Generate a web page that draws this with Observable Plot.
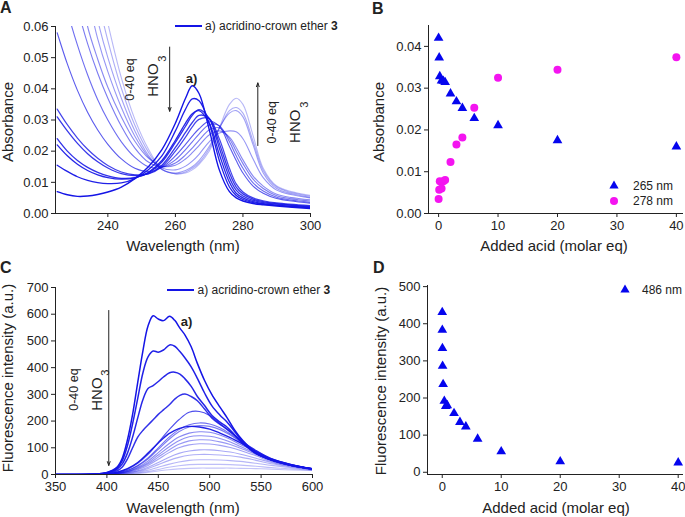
<!DOCTYPE html>
<html><head><meta charset="utf-8">
<script src="https://cdn.jsdelivr.net/npm/d3@7"></script>
<script src="https://cdn.jsdelivr.net/npm/@observablehq/plot@0.6"></script>
<style>
body{margin:0;background:#fff;}
#wrap{position:relative;width:685px;height:517px;font-family:Arial,"Liberation Sans",sans-serif;color:#222;overflow:hidden;background:#fff}
#wrap svg.plot{position:absolute}
.lbl{position:absolute;font-size:15px;line-height:1;white-space:nowrap;transform:translate(-50%,-50%)}
.rot{transform:translate(-50%,-50%) rotate(-90deg)}
.letter{position:absolute;font-weight:bold;font-size:16px;line-height:1}
.leg{position:absolute;font-size:12px;line-height:1;white-space:nowrap}
.legline{position:absolute;height:1.6px;background:#1414e6}
.sym{position:absolute;line-height:0}
.sym svg{display:block}
</style></head>
<body>
<div id="wrap"></div>
<script>
// ---------------- DATA ----------------
// Panel A: UV-vis absorbance spectra (0 -> 40 eq HNO3)
const absWl = [225,228,231,234,237,240,244,248,252,256,260,263,265,267,270,273,276,278,280,283,286,290,300];
const absC1  = [.0070,.0060,.0055,.0056,.0061,.0069,.0085,.0112,.0150,.0205,.0290,.0370,.0410,.0385,.0270,.0140,.0070,.0050,.0040,.0032,.0028,.0024,.0016];
const absC2  = [.0155,.0135,.0118,.0106,.0099,.0096,.0098,.0112,.0140,.0185,.0265,.0335,.0368,.0362,.0290,.0170,.0085,.0058,.0045,.0035,.0030,.0026,.0018];
const absC3  = [.0220,.0185,.0158,.0138,.0124,.0115,.0110,.0114,.0132,.0170,.0235,.0290,.0320,.0330,.0290,.0190,.0100,.0065,.0050,.0038,.0032,.0027,.0019];
const absC4  = [.0240,.0200,.0170,.0148,.0132,.0121,.0113,.0115,.0130,.0165,.0228,.0280,.0315,.0333,.0305,.0210,.0115,.0075,.0056,.0042,.0035,.0030,.0021];
const absC5  = [.0310,.0265,.0225,.0192,.0166,.0146,.0128,.0122,.0128,.0155,.0212,.0260,.0292,.0315,.0305,.0225,.0130,.0085,.0063,.0046,.0038,.0032,.0023];
const absC6  = [.0335,.0285,.0242,.0206,.0177,.0154,.0133,.0124,.0127,.0150,.0200,.0245,.0278,.0302,.0305,.0240,.0145,.0095,.0069,.0050,.0041,.0034,.0025];
const absC7  = [.0580,.0480,.0395,.0325,.0268,.0222,.0175,.0145,.0135,.0148,.0185,.0222,.0248,.0272,.0296,.0280,.0215,.0170,.0130,.0088,.0065,.0048,.0033];
const absC8  = [.0780,.0650,.0540,.0445,.0365,.0300,.0230,.0180,.0150,.0148,.0172,.0205,.0230,.0255,.0285,.0282,.0230,.0185,.0145,.0098,.0072,.0052,.0036];
const absC9  = [.0950,.0800,.0660,.0545,.0450,.0370,.0280,.0210,.0165,.0150,.0162,.0188,.0210,.0235,.0268,.0275,.0240,.0200,.0160,.0110,.0080,.0057,.0040];
const absC10 = [.1100,.0930,.0770,.0600,.0495,.0405,.0310,.0232,.0178,.0152,.0155,.0175,.0195,.0218,.0252,.0265,.0245,.0212,.0172,.0120,.0088,.0062,.0044];
const absC11 = [.1200,.1020,.0850,.0700,.0560,.0455,.0340,.0248,.0182,.0146,.0140,.0152,.0168,.0190,.0230,.0258,.0265,.0262,.0240,.0175,.0115,.0075,.0050];
const absC12 = [.1300,.1120,.0940,.0780,.0620,.0500,.0370,.0265,.0187,.0141,.0130,.0138,.0150,.0170,.0215,.0275,.0322,.0330,.0310,.0220,.0130,.0080,.0052];
const absC13 = [.1400,.1210,.1020,.0850,.0690,.0555,.0402,.0283,.0197,.0141,.0128,.0133,.0145,.0163,.0208,.0272,.0330,.0340,.0322,.0232,.0138,.0085,.0055];
const absC14 = [.1500,.1300,.1100,.0920,.0760,.0610,.0435,.0302,.0207,.0143,.0127,.0130,.0140,.0158,.0200,.0275,.0350,.0370,.0350,.0250,.0145,.0088,.0058];
const absCurves = [absC1,absC2,absC3,absC4,absC5,absC6,absC7,absC8,absC9,absC10,absC11,absC12,absC13,absC14];
const absXTicks = [240,260,280,300];
const absYTicks = [0,0.01,0.02,0.03,0.04,0.05,0.06];

// Panel B: absorbance vs added acid
const eqB = [0,0.1,0.2,0.5,0.8,1.1,2,3,4,6,10,20,40];
const abs265 = [0.0420,0.0373,0.0328,0.0318,0.0317,0.0314,0.0287,0.0268,0.0252,0.0228,0.0211,0.0175,0.0160];
const abs278 = [0.0035,0.0057,0.0077,0.0060,0.0077,0.0080,0.0123,0.0165,0.0182,0.0253,0.0325,0.0344,0.0374];
const acidTicks = [0,10,20,30,40];
const absBTicks = [0,0.01,0.02,0.03,0.04];

// Panel C: fluorescence spectra
const flWlTop = [350,390,400,405,410,415,420,425,430,435,440,445,450,455,461,466,471,476,482,488,495,502,510,517,524,532,545,560,580,600];
const flT1 = [0,2,8,15,28,62,130,225,345,462,556,594,582,576,592,577,548,522,478,416,352,300,252,212,168,128,82,55,34,21];
const flT2 = [0,2,7,13,24,52,108,190,285,380,440,462,458,466,485,480,460,436,403,360,305,258,222,196,162,124,80,55,34,21];
const flT3 = [0,2,6,11,20,40,80,140,212,280,322,333,348,365,381,383,376,358,330,292,258,222,196,177,150,120,79,54,34,21];
const flT4 = [0,2,5,8,14,28,58,100,140,165,185,205,225,242,262,282,296,301,292,276,245,212,188,170,148,117,78,54,34,21];
const flWlLow = [350,400,410,420,430,440,450,460,470,480,490,500,510,520,530,545,560,580,600];
const flL1  = [0,3,8,20,42,75,120,165,205,233,236,221,190,158,128,90,60,37,21];
const flL2  = [0,2,6,16,34,62,100,138,168,186,193,189,175,152,125,90,59,37,21];
const flL3  = [0,3,9,22,45,80,118,152,172,180,178,170,155,138,118,86,58,36,21];
const flL4  = [0,2,6,15,32,58,94,130,160,178,183,180,168,148,122,88,58,36,21];
const flL5  = [0,2,5,12,27,50,82,114,140,155,160,158,148,132,112,84,56,35,20];
const flL6  = [0,2,5,11,24,44,73,102,126,141,145,143,135,122,105,79,54,34,20];
const flL7  = [0,2,4,10,21,39,65,91,113,126,130,129,122,112,98,75,52,33,20];
const flL8  = [0,1,4,9,18,34,57,81,100,111,115,114,109,101,90,70,49,32,19];
const flL9  = [0,1,3,7,14,27,45,64,79,88,92,92,89,84,76,61,45,30,19];
const flL10 = [0,1,3,6,12,22,37,52,64,72,75,75,73,70,65,53,40,28,18];
const flL11 = [0,1,2,4,9,16,27,38,47,53,55,55,54,52,49,42,34,25,17];
const flL12 = [0,1,2,3,6,11,19,27,33,37,38,38,38,37,35,31,26,21,16];
const flL13 = [0,1,1,2,4,8,13,18,21,23,24,24,24,24,23,22,20,17,15];
const flTopCurves = [flT1,flT2,flT3,flT4];
const flLowCurves = [flL1,flL2,flL3,flL4,flL5,flL6,flL7,flL8,flL9,flL10,flL11,flL12,flL13];
const flXTicks = [350,400,450,500,550,600];
const flYTicks = [0,100,200,300,400,500,600,700];

// Panel D: fluorescence at 486 nm vs added acid
const eqD = [0,0.01,0.03,0.06,0.15,0.35,0.6,0.85,2,3,4,6,10,20,40];
const fl486 = [431,383,334,286,237,192,178,180,159,135,123,90,56,29,26];
const flDTicks = [0,100,200,300,400,500];

// Annotations (data coordinates)
const arrowsA = [{x1:258.3,y1:0.0534,x2:258.3,y2:0.0328},{x1:284.4,y1:0.0218,x2:284.4,y2:0.0419}];
const eqNotesA = [{x:246.7,y:0.0430,t:"0-40 eq"},{x:288.7,y:0.0293,t:"0-40 eq"}];
const hno3NotesA = [{x:253.4,y:0.0428,t:"HNO"},{x:295.6,y:0.0280,t:"HNO"}];
const markA = [{x:264.8,y:0.0433,t:"a)"}];
const arrowsC = [{x1:401.8,y1:614,x2:401.8,y2:34}];
const eqNotesC = [{x:367.8,y:318,t:"0-40 eq"}];
const hno3NotesC = [{x:390.3,y:301,t:"HNO"}];
const markC = [{x:477.4,y:570,t:"a)"}];

// ---------------- STYLES ----------------
const BLUE = "#1414e6";
const TRI = "#0505ee";
const MAG = "#f414f0";
const INK = "#222";
const absShade = [1,0.95,0.92,0.88,0.85,0.8,0.7,0.62,0.56,0.5,0.45,0.4,0.35,0.3];
const absWidth = [1.4,1.3,1.3,1.3,1.3,1.2,1.1,1.1,1.1,1.1,1.1,1.1,1.1,1.1];
const flTopShade = [1,0.95,0.92,0.88];
const flLowShade = [0.75,0.6,0.95,0.55,0.5,0.47,0.44,0.4,0.37,0.34,0.31,0.28,0.25];
const FONT = 'Arial, "Liberation Sans", sans-serif';
const baseStyle = {fontSize:"13px", fontFamily:FONT, color:INK, background:"transparent", overflow:"visible"};
const f2 = d3.format(".2f");

const wrap = document.getElementById("wrap");
function place(svg, left, top){ svg.classList.add("plot"); svg.style.left=left+"px"; svg.style.top=top+"px"; wrap.appendChild(svg); }

// ---------------- PANEL A ----------------
const rowsA = absCurves.map(vals => absWl.map((w,j)=>({wl:w, a:vals[j]})));
const linesA = rowsA.map((r,i)=>Plot.line(r,{x:"wl",y:"a",stroke:BLUE,strokeOpacity:absShade[i],strokeWidth:absWidth[i],curve:"catmull-rom",clip:true})).reverse();
const plotA = Plot.plot({
  width:340, height:255, marginLeft:55, marginRight:30, marginTop:26, marginBottom:42,
  style:baseStyle,
  x:{domain:[224.5,300], ticks:absXTicks, tickSize:4, tickPadding:3, label:null},
  y:{domain:[0,0.06], ticks:absYTicks, tickFormat:f2, tickSize:4, tickPadding:3, label:null},
  marks:[
    ...linesA,
    Plot.ruleX([224.5],{stroke:INK}),
    Plot.ruleY([0],{stroke:INK}),
    Plot.arrow(arrowsA,{x1:"x1",y1:"y1",x2:"x2",y2:"y2",stroke:INK,strokeWidth:1,headLength:6,headAngle:40}),
    Plot.text(eqNotesA,{x:"x",y:"y",text:"t",rotate:-90,fontSize:12.5,fill:INK,lineAnchor:"middle"}),
    Plot.text(hno3NotesA,{x:"x",y:"y",text:"t",rotate:-90,fontSize:15,fill:INK,lineAnchor:"middle"}),
    Plot.text(hno3NotesA,{x:"x",y:"y",text:()=> "3",rotate:-90,fontSize:11,fill:INK,lineAnchor:"middle",dx:9,dy:-21.5}),
    Plot.text(markA,{x:"x",y:"y",text:"t",fontSize:13,fontWeight:"bold",fill:INK,lineAnchor:"middle"})
  ]
});
place(plotA,0,0);

// ---------------- PANEL B ----------------
const rowsB265 = eqB.map((e,i)=>({eq:e, v:abs265[i]}));
const rowsB278 = eqB.map((e,i)=>({eq:e, v:abs278[i]}));
const plotB = Plot.plot({
  width:345, height:255, marginLeft:88, marginRight:2, marginTop:25, marginBottom:42,
  style:baseStyle,
  x:{domain:[-1.7,41.2], ticks:acidTicks, tickSize:4, tickPadding:3, label:null},
  y:{domain:[0,0.045], ticks:absBTicks, tickFormat:f2, tickSize:4, tickPadding:3, label:null},
  marks:[
    Plot.ruleX([-1.7],{stroke:INK}),
    Plot.ruleY([0],{stroke:INK}),
    Plot.dot(rowsB278,{x:"eq",y:"v",r:4,fill:MAG,stroke:"none"}),
    Plot.dot(rowsB265,{x:"eq",y:"v",symbol:"triangle",r:3.6,fill:TRI,stroke:"none"})
  ]
});
place(plotB,340,0);

// ---------------- PANEL C ----------------
const rowsCTop = flTopCurves.map(vals => flWlTop.map((w,j)=>({wl:w, f:vals[j]})));
const rowsCLow = flLowCurves.map(vals => flWlLow.map((w,j)=>({wl:w, f:vals[j]})));
const linesCLow = rowsCLow.map((r,i)=>Plot.line(r,{x:"wl",y:"f",stroke:BLUE,strokeOpacity:flLowShade[i],strokeWidth:i===2?1.4:1.1,curve:"catmull-rom",clip:true})).reverse();
const linesCTop = rowsCTop.map((r,i)=>Plot.line(r,{x:"wl",y:"f",stroke:BLUE,strokeOpacity:flTopShade[i],strokeWidth:1.5,curve:"catmull-rom",clip:true})).reverse();
const plotC = Plot.plot({
  width:340, height:262, marginLeft:55, marginRight:28, marginTop:32, marginBottom:43,
  style:baseStyle,
  x:{domain:[350,600], ticks:flXTicks, tickSize:4, tickPadding:3, label:null},
  y:{domain:[0,700], ticks:flYTicks, tickSize:4, tickPadding:3, label:null},
  marks:[
    ...linesCLow,
    ...linesCTop,
    Plot.ruleX([350],{stroke:INK}),
    Plot.ruleY([0],{stroke:INK}),
    Plot.arrow(arrowsC,{x1:"x1",y1:"y1",x2:"x2",y2:"y2",stroke:INK,strokeWidth:1,headLength:6,headAngle:40}),
    Plot.text(eqNotesC,{x:"x",y:"y",text:"t",rotate:-90,fontSize:12.5,fill:INK,lineAnchor:"middle"}),
    Plot.text(hno3NotesC,{x:"x",y:"y",text:"t",rotate:-90,fontSize:15,fill:INK,lineAnchor:"middle"}),
    Plot.text(hno3NotesC,{x:"x",y:"y",text:()=> "3",rotate:-90,fontSize:11,fill:INK,lineAnchor:"middle",dx:9,dy:-21.5}),
    Plot.text(markC,{x:"x",y:"y",text:"t",fontSize:13,fontWeight:"bold",fill:INK,lineAnchor:"middle"})
  ]
});
place(plotC,0,255);

// ---------------- PANEL D ----------------
const rowsD = eqD.map((e,i)=>({eq:e, v:fl486[i]}));
const plotD = Plot.plot({
  width:345, height:262, marginLeft:87, marginRight:2, marginTop:30, marginBottom:43,
  style:baseStyle,
  x:{domain:[-2.5,40.9], ticks:acidTicks, tickSize:4, tickPadding:3, label:null},
  y:{domain:[-6,503], ticks:flDTicks, tickSize:4, tickPadding:3, label:null},
  marks:[
    Plot.ruleX([-2.5],{stroke:INK}),
    Plot.ruleY([-6],{stroke:INK}),
    Plot.dot(rowsD,{x:"eq",y:"v",symbol:"triangle",r:3.6,fill:TRI,stroke:"none"})
  ]
});
place(plotD,340,255);

// ---------------- HTML TEXT: letters, axis titles, legends ----------------
function addDiv(cls, html, left, top){ const d=document.createElement("div"); d.className=cls; d.innerHTML=html; d.style.left=left+"px"; d.style.top=top+"px"; wrap.appendChild(d); return d; }
addDiv("letter","A",0,0);
addDiv("letter","B",372,1);
addDiv("letter","C",0,260);
addDiv("letter","D",373,260);

addDiv("lbl rot","Absorbance",7,122);
addDiv("lbl","Wavelength (nm)",183,244.5);
addDiv("lbl rot","Absorbance",378,122);
addDiv("lbl","Added acid (molar eq)",554,244.5);
addDiv("lbl rot","Fluorescence intensity (a.u.)",7,378);
addDiv("lbl","Wavelength (nm)",183,507);
addDiv("lbl rot","Fluorescence intensity (a.u.)",380,381);
addDiv("lbl","Added acid (molar eq)",556,507);

// line legends (A, C)
const la = addDiv("legline","",175,25.2); la.style.width="27px";
addDiv("leg","a) acridino-crown ether <b>3</b>",205,19.5);
const lc = addDiv("legline","",167,289.2); lc.style.width="27px";
addDiv("leg","a) acridino-crown ether <b>3</b>",197.5,283.5);

// symbol legends (B, D)
function triSvg(cx,cy){ const s=`<svg width="10" height="10" viewBox="0 0 10 10"><path d="M5,0.6 L9.6,8.6 L0.4,8.6Z" fill="${TRI}"/></svg>`; addDiv("sym",s,cx-5,cy-5.6); }
function dotSvg(cx,cy){ const s=`<svg width="10" height="10" viewBox="0 0 10 10"><circle cx="5" cy="5" r="4" fill="${MAG}"/></svg>`; addDiv("sym",s,cx-5,cy-5); }
triSvg(614,186); addDiv("leg","265 nm",633,180);
dotSvg(614,201); addDiv("leg","278 nm",633,195);
triSvg(625,290); addDiv("leg","486 nm",642,284);
</script>
</body></html>
